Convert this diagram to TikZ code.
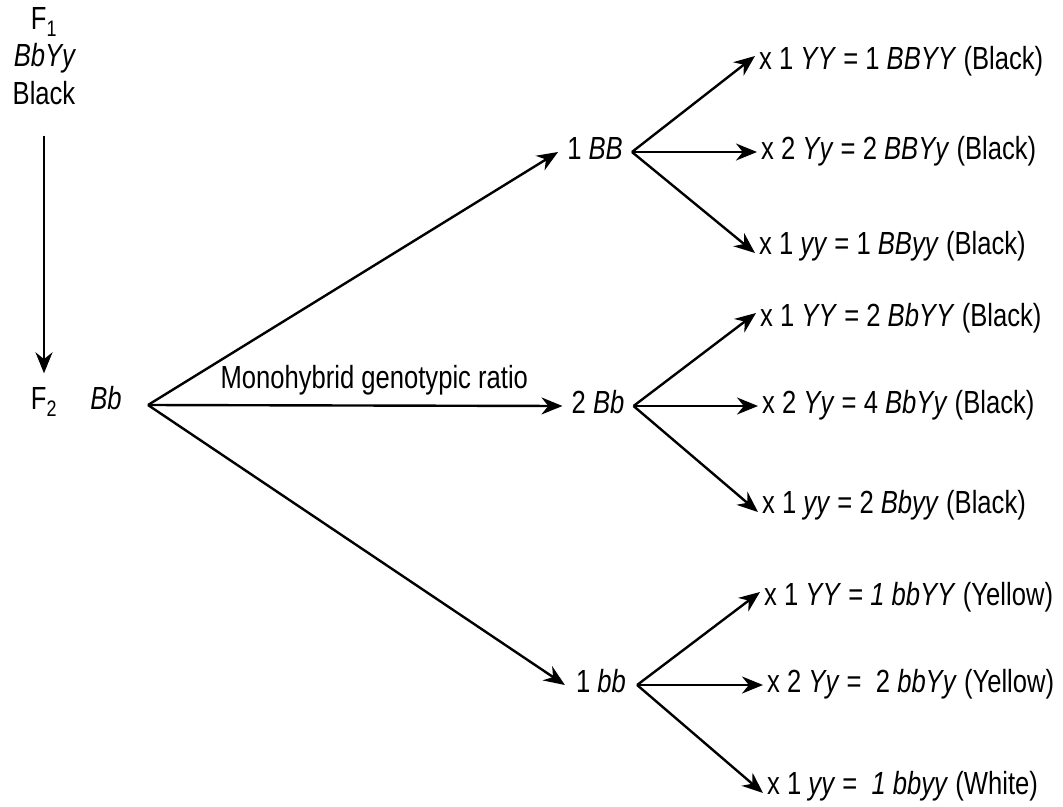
\documentclass[tikz,border=0pt]{standalone}
\usepackage{fontspec}
\setmainfont[FakeStretch=0.8]{Liberation Sans}
\usetikzlibrary{arrows.meta}
\begin{document}
\begin{tikzpicture}[x=1pt,y=-1pt,
  font=\fontsize{32pt}{38pt}\selectfont,
  txt/.style={inner sep=2pt, text height=23pt, text depth=8pt},
  midnode/.style={txt, inner xsep=9pt},
  child/.style={txt, anchor=west, inner xsep=4pt},
  arr/.style={-{Stealth[length=21pt,width=17pt]}, line width=2.4pt}]
\useasboundingbox (0,0) rectangle (1063,806);
% left column
\node[txt] (F1) at (44,22) {F\textsubscript{1}};
\node[txt] (F1g) at (45,59) {\textit{BbYy}};
\node[txt] (F1p) at (44,97) {Black};
\node[txt] (F2) at (44,402) {F\textsubscript{2}};
\node[txt] (F2g) at (106,402) {\textit{Bb}};
\coordinate (fork) at (148,405);
% middle column
\node[midnode] (BB) at (595,152) {1 \textit{BB}};
\node[midnode] (Bb) at (598,406) {2 \textit{Bb}};
\node[midnode, inner xsep=11pt] (bb) at (601,685) {1 \textit{bb}};
% right column
\node[child] (a1) at (755,62) {x 1 \textit{YY} = 1 \textit{BBYY} (Black)};
\node[child] (a2) at (757,152) {x 2 \textit{Yy} = 2 \textit{BBYy} (Black)};
\node[child] (a3) at (755,247) {x 1 \textit{yy} = 1 \textit{BByy} (Black)};
\node[child] (b1) at (756,319) {x 1 \textit{YY} = 2 \textit{BbYY} (Black)};
\node[child] (b2) at (758,406) {x 2 \textit{Yy} = 4 \textit{BbYy} (Black)};
\node[child] (b3) at (758,506) {x 1 \textit{yy} = 2 \textit{Bbyy} (Black)};
\node[child] (c1) at (760,598) {x 1 \textit{YY} = \textit{1 bbYY} (Yellow)};
\node[child] (c2) at (763,685) {x 2 \textit{Yy} =\ \ 2 \textit{bbYy} (Yellow)};
\node[child] (c3) at (763,787) {x 1 \textit{yy} =\ \ \textit{1 bbyy} (White)};
% connectors
\draw[arr, line width=2pt, shorten <=21pt, shorten >=11pt] (F1p.south) -- (F2.north);
\draw[arr] (fork) -- (BB.west);
\draw[arr] (fork) -- (Bb.west) node[txt, pos=0.546, above=6pt] {Monohybrid genotypic ratio};
\draw[arr] (fork) -- (bb.west);
\draw[arr] (BB.east) -- ([yshift=6pt]a1.west);
\draw[arr] (BB.east) -- (a2.west);
\draw[arr] (BB.east) -- ([yshift=-6pt]a3.west);
\draw[arr] (Bb.east) -- ([yshift=6pt]b1.west);
\draw[arr] (Bb.east) -- (b2.west);
\draw[arr] (Bb.east) -- ([yshift=-6pt]b3.west);
\draw[arr] (bb.east) -- ([yshift=6pt]c1.west);
\draw[arr] (bb.east) -- (c2.west);
\draw[arr] (bb.east) -- ([yshift=-6pt]c3.west);
\end{tikzpicture}
\end{document}
